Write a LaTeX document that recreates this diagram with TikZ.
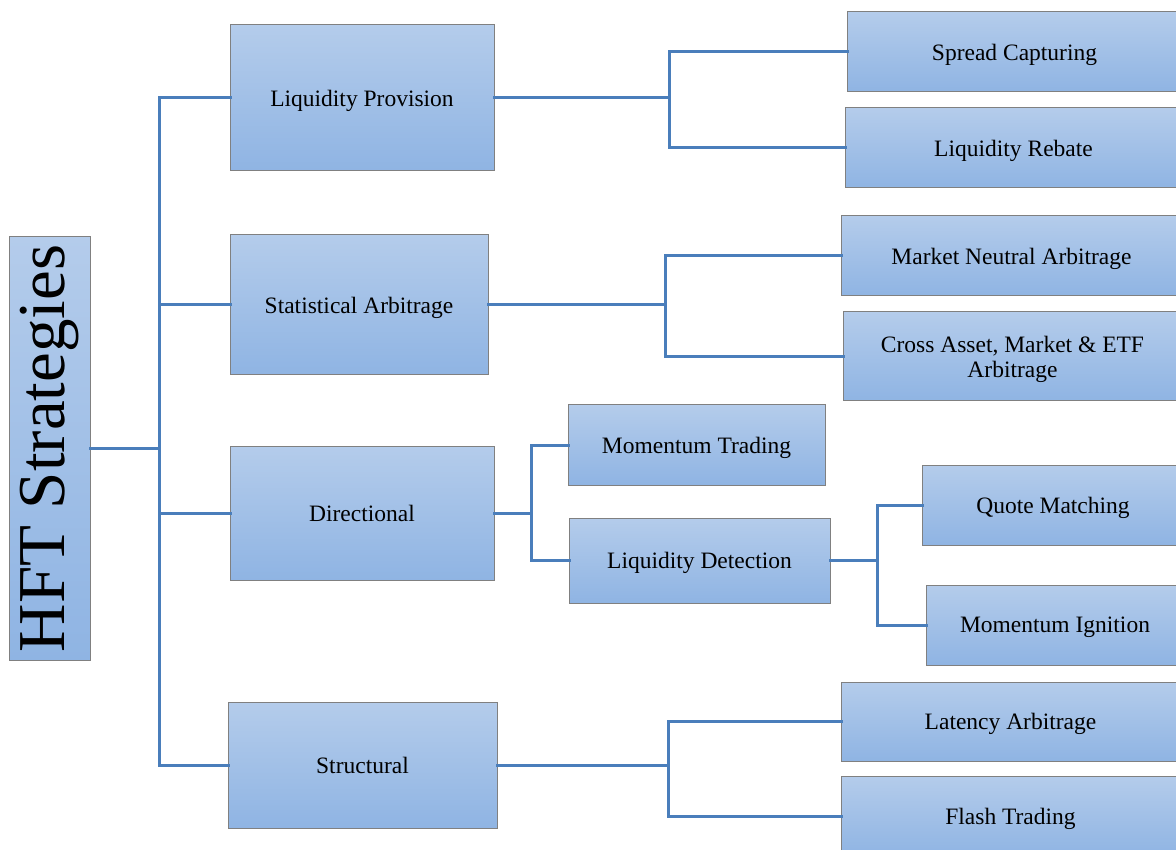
\documentclass[tikz,border=0pt]{standalone}
\usepackage{fontspec}
\setmainfont{Liberation Serif}
\definecolor{boxtop}{RGB}{180,204,235}
\definecolor{boxbot}{RGB}{143,180,227}
\definecolor{boxline}{RGB}{128,128,128}
\definecolor{connline}{RGB}{74,126,187}
\begin{document}
\begin{tikzpicture}[x=1pt,y=-1pt,
  box/.style={draw=boxline, line width=1pt, top color=boxtop, bottom color=boxbot,
    inner sep=0pt, outer sep=0pt, align=center, text depth=0pt,
    font=\fontsize{23.5}{25}\selectfont},
  conn/.style={draw=connline, line width=3pt, line cap=rect}]
\useasboundingbox (0,0) rectangle (1176,850);
% root
\node[box, minimum width=81pt, minimum height=423pt] (hft) at (49.5,448.5)
  {\rotatebox{90}{\fontsize{67}{70}\selectfont HFT Strategies}};
% level 1
\node[box, minimum width=264pt, minimum height=146pt] (lp) at (362,98) {Liquidity Provision};
\node[box, minimum width=258pt, minimum height=140pt] (sa) at (359,305) {Statistical Arbitrage};
\node[box, minimum width=264pt, minimum height=134pt] (dir) at (362,513) {Directional};
\node[box, minimum width=269pt, minimum height=126pt] (str) at (362.5,765) {Structural};
% level 2
\node[box, minimum width=335pt, minimum height=80pt] (sc) at (1014.5,52) {Spread Capturing};
\node[box, minimum width=337pt, minimum height=80pt] (lr) at (1013.5,148) {Liquidity Rebate};
\node[box, minimum width=341pt, minimum height=80pt] (mna) at (1011.5,256) {Market Neutral Arbitrage};
\node[box, minimum width=339pt, minimum height=89pt] (ca) at (1012.5,356.5) {Cross Asset, Market \& ETF\\Arbitrage};
\node[box, minimum width=257pt, minimum height=80pt] (mt) at (696.5,445) {Momentum Trading};
\node[box, minimum width=261pt, minimum height=85pt] (ld) at (699.5,560.5) {Liquidity Detection};
\node[box, minimum width=339pt, minimum height=79pt] (la) at (1010.5,721.5) {Latency Arbitrage};
\node[box, minimum width=339pt, minimum height=80pt] (ft) at (1010.5,816) {Flash Trading};
% level 3
\node[box, minimum width=262pt, minimum height=80pt] (qm) at (1053,505) {Quote Matching};
\node[box, minimum width=258pt, minimum height=80pt] (mi) at (1055,625) {Momentum Ignition};
% connectors
\coordinate (t) at (159,0);
\draw[conn] (hft.east) -- (hft.east -| t);
\draw[conn] (lp.west) -- (t |- lp.west) -- (t |- str.west) -- (str.west);
\draw[conn] (t |- sa.west) -- (sa.west);
\draw[conn] (t |- dir.west) -- (dir.west);
\coordinate (t1) at (669,0);
\draw[conn] (lp.east) -- (lp.east -| t1);
\draw[conn] (sc.west) -- (t1 |- sc.west) -- (t1 |- lr.west) -- (lr.west);
\coordinate (t2) at (665,0);
\draw[conn] (sa.east) -- (sa.east -| t2);
\draw[conn] (mna.west) -- (t2 |- mna.west) -- (t2 |- ca.west) -- (ca.west);
\coordinate (t3) at (531,0);
\draw[conn] (dir.east) -- (dir.east -| t3);
\draw[conn] (mt.west) -- (t3 |- mt.west) -- (t3 |- ld.west) -- (ld.west);
\coordinate (t4) at (877,0);
\draw[conn] (ld.east) -- (ld.east -| t4);
\draw[conn] (qm.west) -- (t4 |- qm.west) -- (t4 |- mi.west) -- (mi.west);
\coordinate (t5) at (668,0);
\draw[conn] (str.east) -- (str.east -| t5);
\draw[conn] (la.west) -- (t5 |- la.west) -- (t5 |- ft.west) -- (ft.west);
\end{tikzpicture}
\end{document}
